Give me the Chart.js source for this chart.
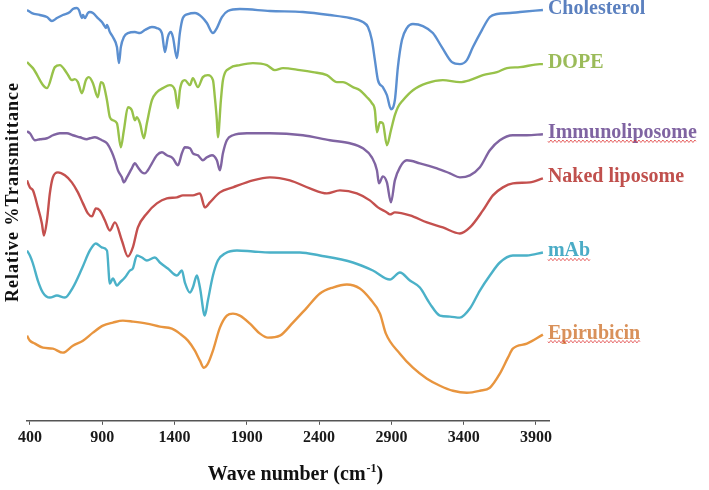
<!DOCTYPE html>
<html>
<head>
<meta charset="utf-8">
<script src="https://cdn.jsdelivr.net/npm/chart.js@4.4.1/dist/chart.umd.min.js"></script>
<style>
  html, body { margin: 0; padding: 0; background: #fff; }
  #wrap { width: 709px; height: 490px; }
</style>
</head>
<body>
<div id="wrap"><canvas id="ftir" width="709" height="490"></canvas></div>
<script>
// FTIR spectra, values (wavenumber in cm-1, relative transmittance with stacking offset)
const xTicks = [400, 900, 1400, 1900, 2400, 2900, 3400, 3900];

const seriesNames = ['Cholesterol', 'DOPE', 'Immunoliposome', 'Naked liposome', 'mAb', 'Epirubicin'];
const lineColors = ['#5b8fd0', '#98c24a', '#8064a2', '#c4504e', '#4bb1c8', '#e8953f'];
const textColors = ['#5b80bf', '#9bbb59', '#8064a2', '#c0504d', '#4bacc6', '#d9915a'];
const underlined = [false, false, true, false, true, true];

const cholesterolWn = [380, 414, 469, 518, 552, 587, 628, 677, 697, 725, 739, 760, 767, 780, 801, 815, 836, 870, 898, 912, 926, 933, 953, 974, 1002, 1016, 1029, 1050, 1078, 1126, 1161, 1195, 1244, 1278, 1313, 1334, 1354, 1375, 1389, 1417, 1437, 1458, 1493, 1541, 1590, 1624, 1666, 1693, 1728, 1769, 1852, 2060, 2288, 2475, 2613, 2703, 2738, 2765, 2786, 2807, 2841, 2869, 2897, 2924, 2945, 2973, 3007, 3049, 3118, 3187, 3249, 3319, 3374, 3422, 3464, 3526, 3581, 3630, 3720, 3789, 3948];
const cholesterolT = [410, 407, 405, 403, 399, 402, 405, 408, 411, 412, 410, 402, 405, 402, 407, 408, 407, 402, 398, 395, 392, 395, 388, 383, 373, 357, 373, 383, 387, 388, 387, 390, 393, 392, 387, 368, 383, 388, 383, 362, 387, 402, 406, 407, 403, 397, 387, 392, 403, 409, 411, 409, 408, 405, 402, 398, 393, 380, 360, 340, 333, 325, 311, 320, 353, 380, 392, 396, 394, 387, 373, 358, 356, 360, 373, 390, 403, 406, 407, 408, 410];

const dopeWn = [380, 421, 518, 573, 607, 656, 690, 711, 732, 760, 787, 808, 836, 870, 891, 905, 933, 953, 974, 1002, 1029, 1050, 1078, 1105, 1126, 1140, 1161, 1188, 1209, 1244, 1278, 1320, 1368, 1403, 1424, 1437, 1472, 1507, 1527, 1562, 1596, 1631, 1666, 1679, 1693, 1700, 1721, 1735, 1783, 1852, 1942, 2039, 2094, 2150, 2267, 2357, 2454, 2523, 2565, 2634, 2682, 2731, 2765, 2786, 2800, 2821, 2841, 2869, 2897, 2924, 2945, 2980, 3049, 3146, 3256, 3374, 3443, 3533, 3630, 3699, 3789, 3927, 3948];
const dopeT = [358, 352, 332, 353, 355, 347, 340, 341, 338, 327, 340, 343, 337, 323, 338, 337, 320, 303, 300, 297, 273, 290, 313, 310, 300, 303, 297, 282, 297, 320, 328, 332, 335, 330, 312, 330, 340, 335, 342, 333, 343, 345, 340, 323, 300, 283, 320, 340, 352, 355, 357, 355, 350, 352, 350, 348, 345, 338, 338, 333, 330, 323, 317, 310, 288, 298, 297, 275, 290, 305, 313, 320, 330, 337, 340, 338, 340, 345, 348, 352, 353, 356, 356];

const immunoWn = [380, 400, 435, 469, 518, 559, 607, 656, 697, 746, 794, 815, 850, 898, 933, 967, 988, 1009, 1036, 1050, 1071, 1105, 1126, 1147, 1175, 1195, 1216, 1244, 1278, 1313, 1347, 1389, 1424, 1451, 1472, 1507, 1527, 1562, 1596, 1624, 1659, 1693, 1714, 1735, 1762, 1804, 1901, 2060, 2288, 2475, 2613, 2703, 2765, 2800, 2814, 2841, 2869, 2897, 2924, 2959, 3007, 3097, 3215, 3305, 3374, 3443, 3512, 3581, 3650, 3740, 3837, 3948];
const immunoT = [289, 287, 280, 281, 282, 285, 287, 287, 285, 283, 281, 282, 283, 280, 277, 268, 260, 250, 243, 238, 243, 252, 257, 253, 248, 247, 250, 257, 265, 268, 265, 262, 255, 267, 273, 272, 267, 265, 260, 263, 265, 260, 250, 267, 280, 285, 287, 287, 285, 280, 277, 272, 263, 250, 237, 244, 238, 218, 240, 253, 260, 257, 252, 247, 243, 245, 253, 270, 280, 285, 285, 286];

const nakedWn = [380, 400, 421, 455, 483, 497, 518, 538, 559, 594, 642, 690, 732, 767, 801, 829, 856, 884, 919, 953, 988, 1036, 1078, 1112, 1147, 1209, 1278, 1347, 1417, 1458, 1527, 1576, 1610, 1645, 1714, 1804, 1942, 2060, 2198, 2336, 2454, 2544, 2661, 2751, 2807, 2869, 2890, 2924, 3028, 3146, 3256, 3374, 3443, 3533, 3602, 3671, 3740, 3858, 3948];
const nakedT = [240, 233, 230, 213, 197, 185, 200, 227, 243, 248, 245, 238, 228, 217, 207, 204, 212, 210, 200, 190, 198, 180, 164, 173, 193, 207, 217, 222, 223, 225, 225, 227, 213, 218, 228, 233, 240, 243, 240, 232, 227, 230, 227, 220, 213, 208, 206, 208, 205, 198, 193, 187, 193, 210, 225, 233, 237, 238, 242];

const mabWn = [380, 400, 421, 455, 490, 538, 587, 642, 697, 760, 815, 856, 898, 933, 953, 974, 1002, 1022, 1057, 1092, 1112, 1140, 1175, 1209, 1264, 1299, 1354, 1417, 1451, 1472, 1507, 1527, 1555, 1576, 1610, 1631, 1666, 1700, 1749, 1832, 1942, 2060, 2267, 2405, 2634, 2772, 2890, 2959, 3028, 3097, 3166, 3236, 3305, 3374, 3443, 3512, 3581, 3650, 3740, 3837, 3948];
const mabT = [170, 165, 157, 140, 128, 123, 125, 123, 133, 152, 170, 177, 173, 170, 137, 142, 135, 138, 143, 150, 152, 165, 163, 160, 163, 158, 152, 145, 150, 138, 128, 133, 145, 133, 105, 120, 145, 160, 167, 170, 169, 168, 168, 165, 158, 150, 141, 148, 140, 133, 117, 105, 104, 103, 112, 130, 145, 158, 165, 165, 168];

const epiWn = [380, 400, 435, 490, 559, 628, 697, 767, 836, 905, 974, 1043, 1112, 1209, 1299, 1382, 1437, 1493, 1541, 1576, 1603, 1631, 1666, 1714, 1762, 1804, 1852, 1922, 1991, 2046, 2129, 2219, 2316, 2406, 2495, 2592, 2682, 2751, 2821, 2862, 2959, 3049, 3146, 3236, 3326, 3422, 3512, 3581, 3650, 3706, 3740, 3837, 3948];
const epiT = [85, 80, 77, 73, 72, 68, 75, 80, 88, 95, 98, 100, 99, 97, 94, 92, 87, 80, 70, 60, 53, 57, 70, 93, 105, 107, 105, 97, 87, 83, 85, 98, 113, 127, 133, 136, 132, 122, 107, 87, 67, 53, 42, 35, 30, 28, 30, 33, 47, 63, 72, 77, 86];

const wnSets = [cholesterolWn, dopeWn, immunoWn, nakedWn, mabWn, epiWn];
const tSets = [cholesterolT, dopeT, immunoT, nakedT, mabT, epiT];

const SERIF = '"Liberation Serif", "Times New Roman", "DejaVu Serif", serif';

const datasets = seriesNames.map((name, k) => ({
  label: name,
  data: wnSets[k].map((x, i) => ({ x: x, y: tSets[k][i] })),
  borderColor: lineColors[k],
  borderWidth: 2.4,
  pointRadius: 0,
  cubicInterpolationMode: 'monotone',
  fill: false
}));

// draws the end labels, axis titles
const annotate = {
  id: 'annotate',
  afterDraw(chart) {
    const ctx = chart.ctx;
    const area = chart.chartArea;
    const xs = chart.scales.x, ys = chart.scales.y;
    ctx.save();

    // series names at the end of each trace
    ctx.font = 'bold 20px ' + SERIF;
    ctx.textBaseline = 'alphabetic';
    ctx.textAlign = 'left';
    seriesNames.forEach((name, k) => {
      const wn = wnSets[k], t = tSets[k];
      const px = xs.getPixelForValue(wn[wn.length - 1]) + 5;
      const py = ys.getPixelForValue(t[t.length - 1]) + 4;
      ctx.fillStyle = textColors[k];
      ctx.fillText(name, px, py);
      if (underlined[k]) {
        const w = ctx.measureText(name).width;
        ctx.beginPath();
        ctx.strokeStyle = 'rgba(220,40,40,0.85)';
        ctx.lineWidth = 0.9;
        for (let x = 0; x <= w; x += 1) {
          const yy = py + 3 + Math.sin(x * Math.PI / 2) * 1.2;
          if (x === 0) ctx.moveTo(px + x, yy); else ctx.lineTo(px + x, yy);
        }
        ctx.stroke();
      }
    });

    // y title
    ctx.save();
    ctx.translate(13, 192);
    ctx.rotate(-Math.PI / 2);
    ctx.font = 'bold 18px ' + SERIF;
    ctx.letterSpacing = '1px';
    ctx.fillStyle = '#111';
    ctx.textAlign = 'center';
    ctx.textBaseline = 'middle';
    ctx.fillText('Relative %Transmittance', 0, 0);
    ctx.restore();

    // x title with superscript
    const main = 'Wave number (cm', sup = '-1', tail = ')';
    ctx.fillStyle = '#111';
    ctx.textBaseline = 'alphabetic';
    ctx.font = 'bold 20px ' + SERIF;
    const wMain = ctx.measureText(main).width;
    const wTail = ctx.measureText(tail).width;
    ctx.font = 'bold 12px ' + SERIF;
    const wSup = ctx.measureText(sup).width;
    const cx = (area.left + area.right) / 2 + 7;
    let x0 = cx - (wMain + wSup + wTail) / 2;
    const base = 480;
    ctx.font = 'bold 20px ' + SERIF;
    ctx.fillText(main, x0, base);
    ctx.font = 'bold 12px ' + SERIF;
    ctx.fillText(sup, x0 + wMain + 1, base - 8);
    ctx.font = 'bold 20px ' + SERIF;
    ctx.fillText(tail, x0 + wMain + wSup + 1, base);

    ctx.restore();
  }
};

new Chart(document.getElementById('ftir'), {
  type: 'line',
  data: { datasets: datasets },
  options: {
    responsive: false,
    animation: false,
    layout: { padding: { left: 27, right: 160, top: 0, bottom: 40 } },
    plugins: { legend: { display: false }, tooltip: { enabled: false } },
    scales: {
      x: {
        type: 'linear',
        min: 380,
        max: 3990,
        afterBuildTicks: (scale) => { scale.ticks = xTicks.map(v => ({ value: v })); },
        ticks: {
          color: '#1a1a1a',
          padding: 3,
          maxRotation: 0,
          callback: (v) => String(v),
          font: { family: SERIF, size: 16, weight: 'bold' }
        },
        grid: { display: true, drawOnChartArea: false, drawTicks: true, tickLength: 4, color: '#555' },
        border: { display: true, color: '#555', width: 1.5 }
      },
      y: { display: false, min: 0, max: 420 }
    }
  },
  plugins: [annotate]
});
</script>
</body>
</html>
